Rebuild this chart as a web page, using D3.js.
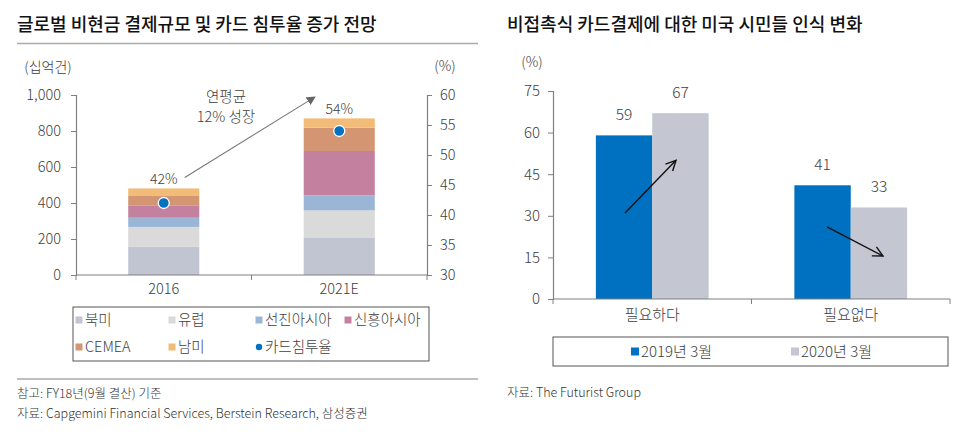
<!DOCTYPE html>
<html><head><meta charset="utf-8">
<script src="https://cdn.jsdelivr.net/npm/d3@7"></script>
<style>
body{margin:0;background:#fff;}
svg{display:block;font-family:"Noto Sans CJK KR","Noto Sans",sans-serif;font-weight:300;}
</style></head>
<body><svg id="c" width="970" height="442"></svg>
<script>
// ---- Left chart data ----
const years = ["2016", "2021E"];
const regions = ["북미", "유럽", "선진아시아", "신흥아시아", "CEMEA", "남미"];
const regionColors = ["#c1c5d1", "#dadada", "#9ab5d6", "#c4819f", "#d49572", "#f2bb78"];
const valuesNA = [157, 209];
const valuesEU = [110, 150];
const valuesDevAsia = [51, 84];
const valuesEmAsia = [69, 246];
const valuesCEMEA = [52, 129];
const valuesLatAm = [42, 52];
const cardPenetration = [42, 54];
const leftTicks = [0, 200, 400, 600, 800, 1000];
const rightTicks = [30, 35, 40, 45, 50, 55, 60];

// ---- Right chart data ----
const opinions = ["필요하다", "필요없다"];
const periods = ["2019년 3월", "2020년 3월"];
const periodColors = ["#0070c0", "#c4c6d1"];
const values2019 = [59, 41];
const values2020 = [67, 33];
const pctTicks = [0, 15, 30, 45, 60, 75];

const svg = d3.select("#c");
const txt = "#404040";
const axisCol = "#808080";
const FF = '"Noto Sans CJK KR",sans-serif';

// ===== Titles =====
svg.append("text").attr("x", 17).attr("y", 31).attr("font-size", 18).attr("font-weight", 500).attr("fill", "#111")
  .text("글로벌 비현금 결제규모 및 카드 침투율 증가 전망");
svg.append("line").attr("x1", 17).attr("x2", 478).attr("y1", 43.5).attr("y2", 43.5).attr("stroke", "#aaa").attr("stroke-width", 1.5);
svg.append("text").attr("x", 507).attr("y", 31).attr("font-size", 18).attr("font-weight", 500).attr("fill", "#111")
  .text("비접촉식 카드결제에 대한 미국 시민들 인식 변화");

// ===== Left chart =====
const L = svg.append("g");
const x = d3.scaleBand().domain(years).range([76, 427]).paddingInner(0.595).paddingOuter(0.2975);
const y = d3.scaleLinear().domain([0, 1000]).range([275, 95]);
const y2 = d3.scaleLinear().domain([30, 60]).range([275, 95]);

const rows = years.map((yr, i) => ({
  year: yr,
  "북미": valuesNA[i], "유럽": valuesEU[i], "선진아시아": valuesDevAsia[i],
  "신흥아시아": valuesEmAsia[i], "CEMEA": valuesCEMEA[i], "남미": valuesLatAm[i]
}));
const stack = d3.stack().keys(regions)(rows);
L.selectAll("g.layer").data(stack).join("g").attr("fill", (d, i) => regionColors[i])
  .selectAll("rect").data(d => d).join("rect")
  .attr("x", d => x(d.data.year)).attr("width", x.bandwidth())
  .attr("y", d => y(d[1])).attr("height", d => y(d[0]) - y(d[1]));

// axes
const yAxis = d3.axisLeft(y).tickValues(leftTicks).tickSize(5).tickPadding(10).tickFormat(d3.format(","));
const gy = L.append("g").attr("transform", "translate(76,0)").call(yAxis);
const y2Axis = d3.axisRight(y2).tickValues(rightTicks).tickSize(5).tickPadding(8);
const gy2 = L.append("g").attr("transform", "translate(427,0)").call(y2Axis);
const xAxis = d3.axisBottom(x).tickSize(0).tickPadding(9);
const gx = L.append("g").attr("transform", "translate(0,275)").call(xAxis);
[gy, gy2, gx].forEach(g => {
  g.select(".domain").attr("stroke", axisCol).attr("stroke-width", 1.2);
  g.selectAll(".tick line").attr("stroke", axisCol);
  g.selectAll("text").attr("font-size", 14.5).attr("fill", txt).attr("font-family", FF).attr("font-weight", 300);
});
gx.select(".domain").attr("d", "M76,0H427");
// boundary ticks
const step = x.step();
const bounds = [76, x(years[0]) + x.bandwidth() + (step - x.bandwidth()) / 2, 427];
L.selectAll("line.bt").data(bounds).join("line").attr("x1", d => d).attr("x2", d => d)
  .attr("y1", 275).attr("y2", 280).attr("stroke", axisCol);

L.append("text").attr("x", 48).attr("y", 72).attr("text-anchor", "middle").attr("font-size", 14).attr("fill", txt).text("(십억건)");
L.append("text").attr("x", 445).attr("y", 71).attr("text-anchor", "middle").attr("font-size", 14).attr("fill", txt).text("(%)");

// penetration dots
L.selectAll("circle.dot").data(cardPenetration).join("circle")
  .attr("cx", (d, i) => x(years[i]) + x.bandwidth() / 2).attr("cy", d => y2(d)).attr("r", 5.5)
  .attr("fill", "#0070c0").attr("stroke", "#fff").attr("stroke-width", 1.3);
L.selectAll("text.pl").data(cardPenetration).join("text")
  .attr("x", (d, i) => x(years[i]) + x.bandwidth() / 2)
  .attr("y", (d, i) => y(d3.sum(regions, k => rows[i][k])) - 4)
  .attr("text-anchor", "middle").attr("font-size", 14).attr("fill", txt).text(d => d + "%");

// growth arrow
const defs = svg.append("defs");
defs.append("marker").attr("id", "tri").attr("viewBox", "0 0 10 10").attr("refX", 8).attr("refY", 5)
  .attr("markerWidth", 9).attr("markerHeight", 9).attr("markerUnits", "userSpaceOnUse").attr("orient", "auto")
  .append("path").attr("d", "M0,0L10,5L0,10z").attr("fill", "#666");
L.append("line").attr("x1", x(years[0]) + x.bandwidth() / 2 + 21).attr("y1", y(481) - 11)
  .attr("x2", x(years[1]) + x.bandwidth() / 2 - 25).attr("y2", y(870) - 21)
  .attr("stroke", "#777").attr("stroke-width", 1.1).attr("marker-end", "url(#tri)");
L.append("text").attr("x", 226).attr("y", 102).attr("text-anchor", "middle").attr("font-size", 14.5).attr("fill", txt).text("연평균");
L.append("text").attr("x", 226).attr("y", 122).attr("text-anchor", "middle").attr("font-size", 14.5).attr("fill", txt).text("12% 성장");

// legend
L.append("rect").attr("x", 73).attr("y", 307).attr("width", 356).attr("height", 54)
  .attr("fill", "none").attr("stroke", "#555").attr("stroke-width", 1);
const legItems = regions.map((r, i) => ({ name: r, color: regionColors[i], type: "sq" }))
  .concat([{ name: "카드침투율", color: "#0070c0", type: "dot" }]);
const legX = [79, 172, 259, 348, 79, 172, 259];
const legY = [320, 320, 320, 320, 347, 347, 347];
legItems.forEach((it, i) => {
  if (it.type === "sq") {
    L.append("rect").attr("x", legX[i] - 3.5).attr("y", legY[i] - 3.5).attr("width", 7).attr("height", 7).attr("fill", it.color);
  } else {
    L.append("circle").attr("cx", legX[i]).attr("cy", legY[i]).attr("r", 3.2).attr("fill", it.color);
  }
  L.append("text").attr("x", legX[i] + 6).attr("y", legY[i] + 5).attr("font-size", 14.5).attr("fill", txt).text(it.name);
});

// footer
svg.append("line").attr("x1", 17).attr("x2", 478).attr("y1", 379).attr("y2", 379).attr("stroke", "#aaa").attr("stroke-width", 1.5);
svg.append("text").attr("x", 17).attr("y", 398).attr("font-size", 12.5).attr("fill", "#333").text("참고: FY18년(9월 결산) 기준");
svg.append("text").attr("x", 17).attr("y", 418).attr("font-size", 12.5).attr("fill", "#333").text("자료: Capgemini Financial Services, Berstein Research,  삼성증권");

// ===== Right chart =====
const R = svg.append("g");
const rx = d3.scaleBand().domain(opinions).range([553, 950]).paddingInner(0.432).paddingOuter(0.216);
const rxi = d3.scaleBand().domain(periods).range([0, rx.bandwidth()]);
const ry = d3.scaleLinear().domain([0, 75]).range([299, 91]);
const rdata = opinions.map((o, i) => ({ opinion: o, vals: [values2019[i], values2020[i]] }));

const grp = R.selectAll("g.grp").data(rdata).join("g").attr("transform", d => `translate(${rx(d.opinion)},0)`);
grp.selectAll("rect").data(d => d.vals.map((v, j) => ({ v, p: periods[j], j }))).join("rect")
  .attr("x", d => rxi(d.p)).attr("width", rxi.bandwidth())
  .attr("y", d => ry(d.v)).attr("height", d => ry(0) - ry(d.v)).attr("fill", d => periodColors[d.j]);
grp.selectAll("text").data(d => d.vals.map((v, j) => ({ v, p: periods[j] }))).join("text")
  .attr("x", d => rxi(d.p) + rxi.bandwidth() / 2).attr("y", d => ry(d.v) - 15)
  .attr("text-anchor", "middle").attr("font-size", 15.5).attr("fill", txt).text(d => d.v);

const ryAxis = d3.axisLeft(ry).tickValues(pctTicks).tickSize(5).tickPadding(8);
const gry = R.append("g").attr("transform", "translate(553,0)").call(ryAxis);
const rxAxis = d3.axisBottom(rx).tickSize(0).tickPadding(10);
const grx = R.append("g").attr("transform", "translate(0,299)").call(rxAxis);
[gry, grx].forEach(g => {
  g.select(".domain").attr("stroke", axisCol).attr("stroke-width", 1.2);
  g.selectAll(".tick line").attr("stroke", axisCol);
  g.selectAll("text").attr("font-size", 15).attr("fill", txt).attr("font-family", FF).attr("font-weight", 300);
});
grx.select(".domain").attr("d", "M553,0H950");
const rstep = rx.step();
const rbounds = [553, rx(opinions[0]) + rx.bandwidth() + (rstep - rx.bandwidth()) / 2, 950];
R.selectAll("line.bt").data(rbounds).join("line").attr("x1", d => d).attr("x2", d => d)
  .attr("y1", 299).attr("y2", 304).attr("stroke", axisCol);
R.append("text").attr("x", 532).attr("y", 67).attr("text-anchor", "middle").attr("font-size", 14).attr("fill", txt).text("(%)");

// trend arrows (open heads)
defs.append("marker").attr("id", "open").attr("viewBox", "0 0 12 12").attr("refX", 11).attr("refY", 6)
  .attr("markerWidth", 12).attr("markerHeight", 12).attr("markerUnits", "userSpaceOnUse").attr("orient", "auto")
  .append("path").attr("d", "M1,1L11,6L1,11").attr("fill", "none").attr("stroke", "#111").attr("stroke-width", 1.4);
R.append("line").attr("x1", 625).attr("y1", ry(31)).attr("x2", 676).attr("y2", ry(50))
  .attr("stroke", "#111").attr("stroke-width", 1.4).attr("marker-end", "url(#open)");
R.append("line").attr("x1", 827).attr("y1", ry(26)).attr("x2", 883).attr("y2", ry(15.5))
  .attr("stroke", "#111").attr("stroke-width", 1.4).attr("marker-end", "url(#open)");

// right legend
R.append("rect").attr("x", 553).attr("y", 337).attr("width", 395).attr("height", 29)
  .attr("fill", "none").attr("stroke", "#555").attr("stroke-width", 1);
const rlegX = [635, 795];
periods.forEach((p, i) => {
  R.append("rect").attr("x", rlegX[i] - 4).attr("y", 347.5).attr("width", 8).attr("height", 8).attr("fill", periodColors[i]);
  R.append("text").attr("x", rlegX[i] + 6).attr("y", 357).attr("font-size", 15).attr("fill", txt).text(p);
});
svg.append("text").attr("x", 507).attr("y", 397).attr("font-size", 12.5).attr("fill", "#333").text("자료: The Futurist Group");
</script></body></html>
